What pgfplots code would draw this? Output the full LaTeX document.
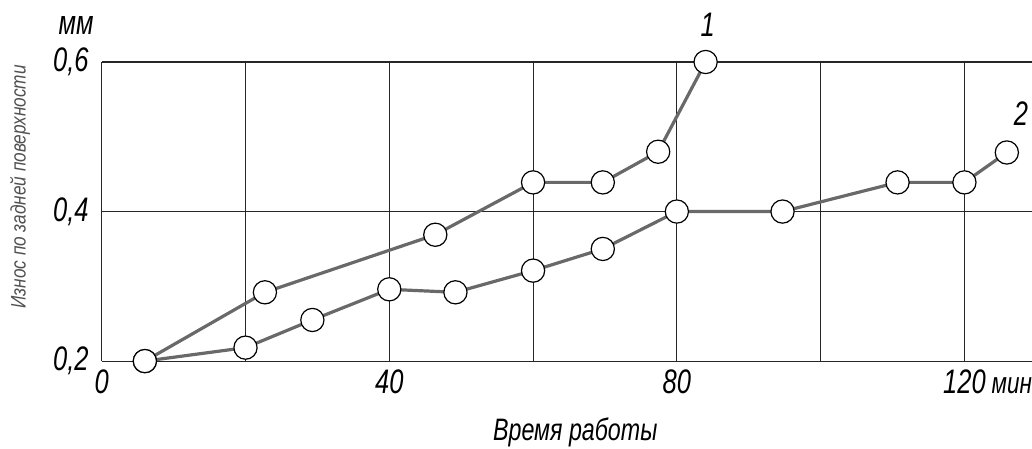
\documentclass[border=0pt]{standalone}
\usepackage{pgfplots}
\pgfplotsset{compat=1.18}
\usepackage{fontspec}
\setmainfont{Liberation Sans}[FakeStretch=0.82]
\newfontfamily\gost{Liberation Sans}[FakeStretch=0.75]
\definecolor{ln}{RGB}{105,105,105}
\definecolor{lbl}{RGB}{80,80,80}
\newcommand{\tf}{\gost\fontsize{17}{17}\selectfont\itshape}
\begin{document}
\begin{tikzpicture}
\begin{axis}[name=ax, scale only axis, width=465pt, height=149.5pt,
 xmin=0, xmax=129.4, ymin=0.2, ymax=0.6,
 xtick={0,20,...,120}, xticklabels={0,,40,,80,,120\rlap{\kern3pt\fontsize{15}{15}\selectfont мин}},
 ytick={0.2,0.4,0.6}, yticklabels={{0,2},{0,4},{0,6}},
 grid=major, grid style={black!85, line width=0.55pt},
 axis line style={draw=none}, major tick length=0pt,
 tick label style={font=\tf},
 xticklabel style={yshift=-1pt},
 yticklabel style={xshift=-3pt},
 clip=false]
\addplot[ln, line width=1.6pt, mark=*, mark size=5.8pt, mark options={fill=white, draw=black, line width=0.6pt, solid}]
 coordinates {(6,0.2)(22.7,0.292)(46.4,0.369)(60,0.439)(69.7,0.439)(77.4,0.48)(84,0.6)};
\addplot[ln, line width=1.6pt, mark=*, mark size=5.8pt, mark options={fill=white, draw=black, line width=0.6pt, solid}]
 coordinates {(6,0.2)(20,0.218)(29.3,0.255)(40,0.296)(49.2,0.292)(60,0.321)(69.7,0.35)(80,0.4)(94.7,0.4)(110.7,0.439)(120,0.439)(125.9,0.479)};
\node[font=\tf] at ([xshift=1pt,yshift=18.5pt]axis cs:84,0.6) {1};
\node[font=\tf] at ([xshift=7pt,yshift=19.4pt]axis cs:125.9,0.479) {2};
\node[font=\tf] at ([xshift=-12.85pt,yshift=18pt]rel axis cs:0,1) {мм};
\node[font=\gost\fontsize{15.5}{15.5}\selectfont\itshape] at ([yshift=-35.5pt]rel axis cs:0.509,0) {Время работы};
\node[rotate=90, text=lbl, font=\fontsize{10.5}{10.5}\selectfont\itshape] at ([xshift=-40.85pt]rel axis cs:0,0.582) {Износ по задней поверхности};
\end{axis}
\pgfresetboundingbox
\path[use as bounding box] ([shift={(-50.85pt,-43.5pt)}]ax.south west) rectangle ([shift={(0pt,31pt)}]ax.north east);
\end{tikzpicture}
\end{document}
